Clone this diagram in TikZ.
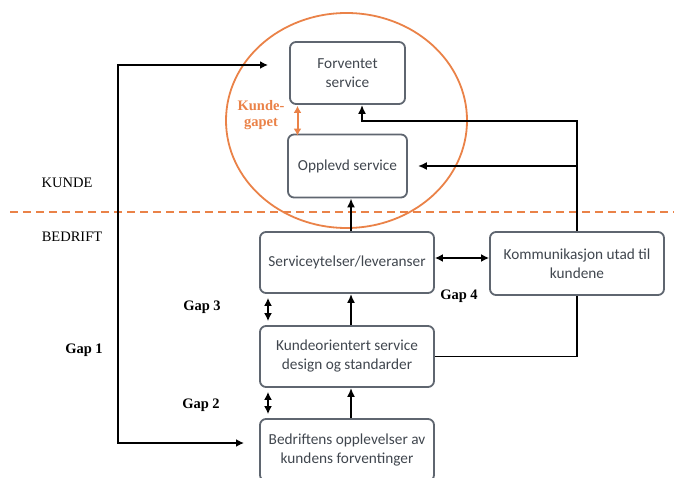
\documentclass[tikz,border=0pt]{standalone}
\usepackage{fontspec}
\setmainfont{Liberation Serif}
\newfontfamily\boxfont{Carlito}
\usetikzlibrary{arrows.meta,calc}
\definecolor{orng}{RGB}{234,130,72}
\definecolor{boxline}{RGB}{95,102,112}
\definecolor{boxtext}{RGB}{64,70,78}
\tikzset{
  sbox/.style={draw=boxline, line width=1.8pt, rounded corners=6pt, align=center,
    font=\boxfont\fontsize{15.3}{19}\selectfont, text=boxtext, inner sep=2pt},
  conn/.style={line width=1.8pt, -{Latex[length=9pt,width=8pt]}},
  dconn/.style={line width=1.8pt, {Latex[length=8pt,width=8pt]}-{Latex[length=8pt,width=8pt]}},
  plain/.style={line width=1.8pt},
  lbl/.style={font=\fontsize{14.5}{16}\selectfont, inner sep=0pt},
  gaplbl/.style={font=\bfseries\fontsize{14.5}{16}\selectfont, inner sep=0pt},
}
\begin{document}
\begin{tikzpicture}[x=1pt,y=-1pt]
\useasboundingbox (0,0) rectangle (674,478);
\clip (0,0) rectangle (674,478);
% ellipse and divider
\draw[orng, line width=1.8pt] (346.5,120.5) ellipse [x radius=120.5, y radius=107.5];
\draw[orng, line width=2pt, dash pattern=on 8pt off 5pt] (10,212) -- (674,212);
% boxes
\node[sbox, minimum width=115, minimum height=62] (fs) at (347.5,73) {Forventet\\service};
\node[sbox, minimum width=119, minimum height=63] (os) at (347.5,166) {Opplevd service};
\node[sbox, minimum width=174, minimum height=61] (sy) at (347,262.5) {Serviceytelser/leveranser};
\node[sbox, minimum width=174, minimum height=61] (ko) at (347,356.5) {Kundeorientert service\\design og standarder};
\node[sbox, minimum width=174, minimum height=62] (be) at (347,450) {Bedriftens opplevelser av\\kundens forventinger};
\node[sbox, minimum width=174, minimum height=63] (km) at (577,263.5) {Kommunikasjon utad til\\kundene};
% labels
\node[lbl] (kunde) at (67,183) {KUNDE};
\node[lbl] (bedrift) at (72,237) {BEDRIFT};
\node[gaplbl, text=orng, align=center] (kg) at (261,115) {Kunde-\\gapet};
\node[gaplbl] (g1) at (84,350) {Gap 1};
\node[gaplbl] (g2) at (201,405) {Gap 2};
\node[gaplbl] (g3) at (202,307) {Gap 3};
\node[gaplbl] (g4) at (459,296) {Gap 4};
% coordinates
\coordinate (g1t) at (268,65);
\coordinate (g1l) at (118,250);
\coordinate (g1b) at (244,443);
\coordinate (c1) at (362,121);
% connectors
\draw[dconn] (g1t) -| (g1l) |- (g1b);
\draw[line width=2pt, orng, {Latex[length=7pt,width=8pt]}-{Latex[length=7pt,width=8pt]}]
  ($(fs.south)+(-50,1)$) -- ($(os.north)+(-50,2)$);
\draw[conn] (km.north) |- (c1) -- (c1 |- fs.south);
\draw[conn, shorten >=10pt] (km.north |- os.east) -- (os.east);
\draw[dconn] ([yshift=4.5pt]sy.east) -- ([yshift=4.5pt]sy.east -| km.west);
\draw[plain] (km.south) |- (ko.east);
\draw[conn] ([xshift=4pt]sy.north) -- ([xshift=4pt]sy.north |- os.south);
\draw[conn] ([xshift=4pt]ko.north |- ko.north) -- ([xshift=4pt]sy.south);
\draw[conn] ([xshift=4pt]be.north) -- ([xshift=4pt]ko.south);
\draw[dconn, shorten <=4pt, shorten >=4pt] ([xshift=-79pt]sy.south) -- ([xshift=-79pt]ko.north);
\draw[dconn, shorten <=4pt, shorten >=4pt] ([xshift=-79pt]ko.south) -- ([xshift=-79pt]be.north);
\end{tikzpicture}
\end{document}
